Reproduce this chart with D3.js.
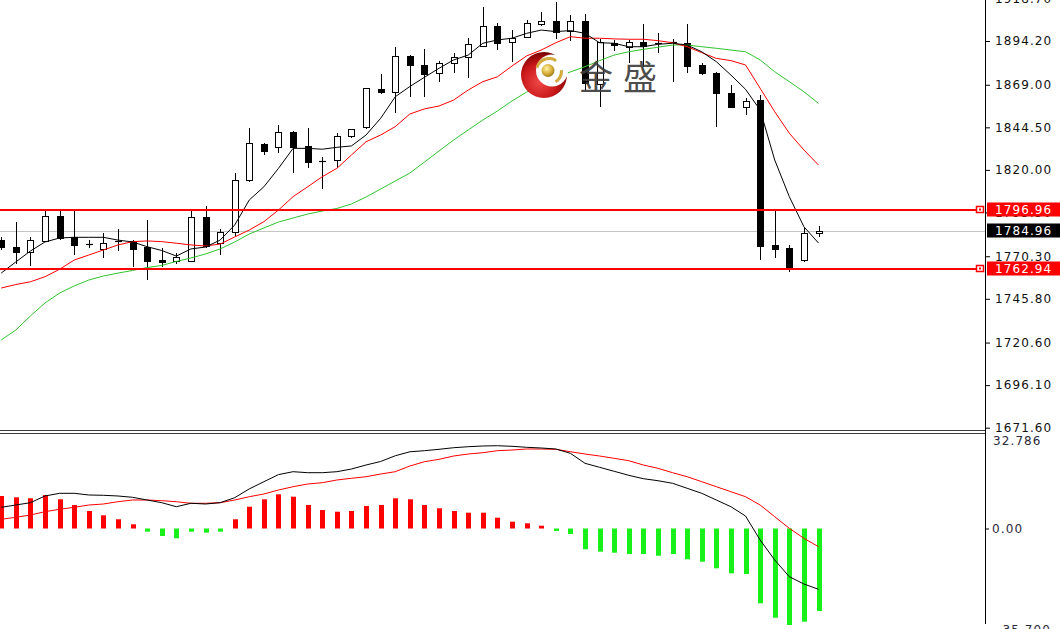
<!DOCTYPE html>
<html><head><meta charset="utf-8">
<script src="https://cdn.jsdelivr.net/npm/d3@7"></script>
<style>body{margin:0;background:#fff;overflow:hidden;} svg{display:block;}</style>
</head><body>
<svg id="c" width="1060" height="629"></svg>
<script>
// ---------- DATA ----------
const opens = [1779.7,1775.8,1772.5,1779.1,1793.5,1781.4,1777.3,1774.5,1779.1,1778.8,
1775.6,1768.1,1767.3,1767.8,1792.6,1777.9,1784.0,1814.2,1834.9,1833.0,
1842.0,1833.8,1825.4,1825.7,1839.5,1844.5,1866.7,1865.0,1885.6,1880.4,
1876.0,1881.4,1884.8,1891.3,1902.8,1893.8,1896.7,1904.0,1905.9,1900.2,
1905.9,1869.5,1893.2,1890.6,1893.8,1893.0,1893.6,1893.2,1880.4,1876.0,
1864.4,1856.0,1860.2,1776.8,1774.9,1768.1,1783.5];
const highs = [1781.4,1790.2,1781.1,1797.5,1797.5,1797.2,1779.7,1783.4,1786.0,1779.9,
1790.9,1775.3,1772.2,1797.2,1799.2,1785.7,1818.0,1844.0,1835.2,1845.8,
1842.4,1844.0,1827.3,1841.1,1843.5,1867.4,1875.2,1890.6,1885.9,1889.4,
1882.7,1887.5,1896.1,1913.6,1904.4,1900.5,1906.3,1911.1,1916.8,1909.2,
1909.7,1895.6,1894.8,1894.8,1904.0,1899.0,1895.2,1904.0,1881.7,1876.4,
1868.9,1861.2,1863.1,1796.9,1776.8,1786.4,1787.7];
const lows = [1773.9,1765.8,1764.4,1778.5,1779.9,1771.0,1775.0,1769.3,1773.6,1764.1,
1756.6,1764.1,1766.1,1767.6,1775.0,1771.0,1781.7,1812.8,1828.6,1829.9,
1818.0,1820.9,1808.8,1820.9,1838.2,1843.4,1863.7,1852.6,1862.1,1862.1,
1870.8,1875.6,1872.7,1890.9,1889.0,1882.3,1895.8,1902.8,1895.2,1894.4,
1866.0,1856.4,1888.6,1881.5,1879.4,1887.1,1870.8,1875.6,1874.6,1844.9,
1855.6,1851.6,1768.1,1769.1,1761.4,1767.2,1781.2];
const closes = [1775.6,1772.7,1779.4,1793.5,1780.8,1776.8,1777.1,1777.9,1778.5,1774.5,
1767.3,1767.0,1769.6,1792.6,1776.2,1784.3,1814.2,1835.2,1830.6,1842.0,
1833.4,1824.7,1825.1,1839.5,1843.4,1867.0,1864.8,1885.6,1880.4,1875.2,
1881.4,1884.8,1892.5,1902.8,1893.2,1895.8,1904.7,1905.9,1899.6,1906.0,
1869.9,1893.6,1891.9,1893.8,1891.3,1892.8,1893.3,1879.8,1876.0,1864.1,
1856.0,1859.8,1776.2,1774.3,1764.3,1783.5,1784.96];

const maFast = [1760.6,1767.0,1773.3,1778.5,1780.8,1781.2,1781.2,1781.2,1779.6,1778.5,
1775.8,1773.6,1770.4,1774.5,1775.6,1779.6,1788.3,1802.7,1810.3,1820.9,
1832.4,1832.4,1831.9,1833.0,1833.8,1840.1,1849.7,1862.1,1868.0,1873.3,
1878.5,1883.3,1886.1,1892.9,1894.8,1895.8,1898.6,1900.5,1899.6,1900.2,
1898.6,1893.2,1892.9,1890.9,1890.9,1892.3,1892.9,1891.9,1888.0,1882.3,
1874.6,1866.4,1854.5,1825.7,1804.6,1787.3,1777.9];
const maMid = [1752.0,1754.0,1755.6,1758.5,1762.8,1768.1,1771.0,1773.9,1776.8,1778.7,
1779.1,1778.7,1777.8,1776.8,1776.2,1777.3,1781.4,1785.4,1790.2,1796.9,
1804.6,1810.3,1816.1,1820.9,1828.6,1836.2,1840.1,1844.9,1852.2,1855.1,
1856.8,1860.2,1866.0,1870.8,1873.6,1879.8,1885.6,1889.0,1893.2,1896.7,
1895.8,1895.8,1895.4,1895.2,1895.2,1894.4,1893.2,1890.9,1887.5,1884.2,
1882.9,1880.4,1867.0,1853.5,1841.1,1831.5,1822.8];
const maSlow = [1722.1,1727.8,1735.9,1743.4,1749.1,1753.2,1756.6,1758.9,1760.6,1762.1,
1763.8,1765.0,1767.3,1769.3,1771.6,1774.5,1778.5,1783.1,1786.6,1790.0,
1792.3,1794.6,1796.3,1797.8,1800.4,1804.4,1809.0,1813.6,1818.2,1824.5,
1830.9,1837.2,1843.0,1848.7,1853.9,1859.7,1864.8,1869.5,1873.5,1876.4,
1879.4,1882.9,1886.1,1888.0,1889.4,1890.6,1891.9,1891.9,1890.9,1890.0,
1889.0,1888.0,1883.3,1876.5,1870.8,1865.0,1858.3];

const macdHist = [11.40,10.94,10.59,11.75,10.24,8.24,6.14,4.63,3.23,1.47,
-1.12,-2.63,-3.44,-1.12,-1.47,-1.12,3.23,7.64,10.24,11.99,
11.15,8.24,6.49,5.89,6.14,7.89,8.24,10.59,10.24,8.24,
7.08,6.14,5.54,5.54,3.79,2.38,1.82,0.98,-0.88,-1.93,
-7.29,-8.13,-8.49,-8.94,-8.94,-9.54,-8.94,-10.80,-11.64,-13.96,
-15.71,-15.95,-26.23,-31.28,-33.84,-32.68,-28.93];
const macdLine = [7.43,8.24,9.05,11.40,12.34,12.34,11.75,11.64,11.40,10.94,
9.99,9.05,7.64,8.84,8.59,9.05,10.8,13.9,16.41,18.9,
19.92,19.57,19.57,19.92,20.86,22.27,23.5,25.5,26.9,27.28,
27.77,28.33,28.68,28.93,29.03,28.82,28.47,28.23,27.88,26.37,
22.86,21.46,20.06,18.65,17.46,16.76,15.85,14.10,12.34,9.99,
7.64,4.38,-4.03,-11.04,-16.90,-19.46,-21.32];
const macdSignal = [3.23,3.93,4.73,5.89,6.73,7.43,8.24,8.59,9.40,9.99,
9.99,9.75,9.40,8.84,8.84,9.05,9.99,11.15,12.10,13.50,
14.66,15.60,16.06,17.01,17.60,18.16,19.11,19.92,21.91,23.42,
24.26,25.42,26.12,26.58,27.28,27.52,27.88,27.88,27.77,26.93,
26.12,25.42,24.61,23.77,22.27,21.11,19.57,18.16,16.41,14.66,
12.90,11.15,8.24,4.14,0.07,-3.44,-6.38];

const priceTicks = [1918.70,1894.20,1869.00,1844.50,1820.00,1795.50,1770.30,1745.80,1720.60,1696.10,1671.60];
const priceTickLabels = ["1918.70","1894.20","1869.00","1844.50","1820.00","1795.50","1770.30","1745.80","1720.60","1696.10","1671.60"];
const levelPrices = [1796.96, 1762.94];
const levelLabels = ["1796.96", "1762.94"];
const lastPrice = 1784.96;
const lastLabel = "1784.96";
const macdMax = 32.786, macdMaxLabel = "32.786";
const macdZeroLabel = "0.00";
const macdMin = -35.7, macdMinLabel = "-35.700";
const watermarkText = ["金", "盛"];

// ---------- CHART ----------
const W = 1060, H = 629, axisX = 985;
const svg = d3.select('#c');
const defs = svg.append('defs');
const n = closes.length;
const x = d3.scaleLinear().domain([0, n - 1]).range([1.2, 818.5]);
const yP = d3.scaleLinear().domain([1894.2, 1671.6]).range([41, 427.7]);
const yM = d3.scaleLinear().domain([macdMax, 0]).range([435, 528.5]);
const px = i => Math.round(x(i)) + 0.5;
const FONT = 'DejaVu Sans, Verdana, sans-serif';

defs.append('clipPath').attr('id', 'cpMain').append('rect')
  .attr('x', 0).attr('y', 0).attr('width', axisX).attr('height', 430);
defs.append('clipPath').attr('id', 'cpMacd').append('rect')
  .attr('x', 0).attr('y', 435).attr('width', axisX).attr('height', H - 435);

const gMain = svg.append('g').attr('clip-path', 'url(#cpMain)');

// last price grey line
gMain.append('line')
  .attr('x1', 0).attr('x2', axisX)
  .attr('y1', Math.round(yP(lastPrice)) + 0.5).attr('y2', Math.round(yP(lastPrice)) + 0.5)
  .attr('stroke', '#c4c4c4').attr('stroke-width', 1);

// candles
const cg = gMain.append('g');
d3.range(n).forEach(i => {
  const cx = px(i);
  cg.append('line')
    .attr('x1', cx).attr('x2', cx)
    .attr('y1', Math.round(yP(highs[i]))).attr('y2', Math.round(yP(lows[i])))
    .attr('stroke', '#000').attr('stroke-width', 1);
  const yo = Math.round(yP(opens[i])), yc = Math.round(yP(closes[i]));
  const top = Math.min(yo, yc), bot = Math.max(yo, yc);
  const bull = closes[i] >= opens[i];
  if (bot - top < 2) {
    cg.append('line')
      .attr('x1', cx - 3.5).attr('x2', cx + 3.5)
      .attr('y1', top + 0.5).attr('y2', top + 0.5)
      .attr('stroke', '#000').attr('stroke-width', 1.2);
  } else {
    cg.append('rect')
      .attr('x', cx - 3).attr('y', top + 0.5)
      .attr('width', 6).attr('height', bot - top)
      .attr('fill', bull ? '#fff' : '#000')
      .attr('stroke', '#000').attr('stroke-width', 1);
  }
});

// moving averages
const maLine = d3.line().x((d, i) => x(i)).y(d => yP(d));
gMain.append('path').datum(maSlow).attr('d', maLine)
  .attr('fill', 'none').attr('stroke', '#2fc42f').attr('stroke-width', 1);
gMain.append('path').datum(maMid).attr('d', maLine)
  .attr('fill', 'none').attr('stroke', '#ff0000').attr('stroke-width', 1);
gMain.append('path').datum(maFast).attr('d', maLine)
  .attr('fill', 'none').attr('stroke', '#000').attr('stroke-width', 1);

// horizontal level lines
levelPrices.forEach(v => {
  const yy = Math.round(yP(v));
  svg.append('line').attr('x1', 0).attr('x2', 977)
    .attr('y1', yy).attr('y2', yy)
    .attr('stroke', '#ff0000').attr('stroke-width', 2);
  svg.append('rect').attr('x', 976.5).attr('y', yy - 3.5).attr('width', 7).attr('height', 6)
    .attr('fill', '#fff').attr('stroke', '#ff0000').attr('stroke-width', 1.5);
  svg.append('rect').attr('x', 979).attr('y', yy - 1.5).attr('width', 2).attr('height', 2)
    .attr('fill', '#ff0000');
});

// watermark logo
const rg = defs.append('radialGradient').attr('id', 'redG').attr('cx', '40%').attr('cy', '65%').attr('r', '65%');
rg.append('stop').attr('offset', '0%').attr('stop-color', '#f04848');
rg.append('stop').attr('offset', '60%').attr('stop-color', '#c81818');
rg.append('stop').attr('offset', '100%').attr('stop-color', '#7a0000');
const gg = defs.append('radialGradient').attr('id', 'goldG').attr('cx', '40%').attr('cy', '35%').attr('r', '70%');
gg.append('stop').attr('offset', '0%').attr('stop-color', '#fff2a8');
gg.append('stop').attr('offset', '55%').attr('stop-color', '#d9b23c');
gg.append('stop').attr('offset', '100%').attr('stop-color', '#9a7416');
const wm = svg.append('g');
wm.append('circle').attr('cx', 544).attr('cy', 75).attr('r', 23).attr('fill', 'url(#redG)');
wm.append('circle').attr('cx', 552).attr('cy', 70.5).attr('r', 16).attr('fill', '#fff');
wm.append('path')
  .attr('d', d3.arc().innerRadius(11).outerRadius(14).startAngle(-1.3).endAngle(0.6)())
  .attr('transform', 'translate(549,71)').attr('fill', '#d2aa3e');
wm.append('path')
  .attr('d', d3.arc().innerRadius(11).outerRadius(14).startAngle(1.5).endAngle(2.6)())
  .attr('transform', 'translate(549,71)').attr('fill', '#d2aa3e');
wm.append('circle').attr('cx', 548).attr('cy', 70.5).attr('r', 6.5).attr('fill', 'url(#goldG)');
wm.selectAll('text.wm').data(watermarkText).enter().append('text')
  .attr('x', (d, i) => 579 + i * 44).attr('y', 90)
  .attr('font-family', 'Noto Sans CJK SC').attr('font-size', 34)
  .attr('fill', '#3b3b3b').attr('fill-opacity', 0.92)
  .text(d => d);

// MACD panel
const gM = svg.append('g').attr('clip-path', 'url(#cpMacd)');
const y0 = yM(0);
gM.selectAll('rect.h').data(macdHist).enter().append('rect')
  .attr('x', (d, i) => Math.round(x(i)) - 2)
  .attr('y', d => d >= 0 ? yM(d) : y0)
  .attr('width', 5)
  .attr('height', d => Math.abs(yM(d) - y0))
  .attr('fill', d => d >= 0 ? '#ff0000' : '#19f019');
const mLine = d3.line().x((d, i) => x(i)).y(d => yM(d));
gM.append('path').datum(macdSignal).attr('d', mLine)
  .attr('fill', 'none').attr('stroke', '#ff0000').attr('stroke-width', 1);
gM.append('path').datum(macdLine).attr('d', mLine)
  .attr('fill', 'none').attr('stroke', '#000').attr('stroke-width', 1);

// panel separator
[430.5, 433.5].forEach(yy => {
  svg.append('line').attr('x1', 0).attr('x2', axisX).attr('y1', yy).attr('y2', yy)
    .attr('stroke', '#3a3a3a').attr('stroke-width', 1);
});

// right price axis
const ax = svg.append('g').attr('transform', `translate(${axisX},0)`)
  .call(d3.axisRight(yP).tickValues(priceTicks).tickSize(5).tickPadding(5)
    .tickFormat((d, i) => priceTickLabels[i]));
ax.select('.domain').remove();
ax.attr('font-family', FONT).attr('font-size', 12);
ax.selectAll('text').attr('fill', '#111').attr('letter-spacing', '1.1px');
ax.selectAll('line').attr('stroke', '#000');

// MACD axis
const axM = svg.append('g').attr('transform', `translate(${axisX},0)`)
  .call(d3.axisRight(yM).tickValues([0]).tickSize(4).tickPadding(3).tickFormat(() => macdZeroLabel));
axM.select('.domain').remove();
axM.attr('font-family', FONT).attr('font-size', 12);
axM.selectAll('text').attr('fill', '#2a2a40').attr('letter-spacing', '1.1px');
axM.selectAll('line').attr('stroke', '#000');
svg.append('text').attr('x', axisX + 8).attr('y', yM(macdMax) + 6).attr('dy', '0.32em')
  .attr('font-family', FONT).attr('font-size', 12).attr('letter-spacing', '1.1px')
  .attr('fill', '#2a2a40').text(macdMaxLabel);
svg.append('text').attr('x', axisX + 12).attr('y', yM(macdMin)).attr('dy', '0.32em')
  .attr('font-family', FONT).attr('font-size', 12).attr('letter-spacing', '1.1px')
  .attr('fill', '#2a2a40').text(macdMinLabel);

// axis vertical line
svg.append('line').attr('x1', axisX + 0.5).attr('x2', axisX + 0.5).attr('y1', 0).attr('y2', 624)
  .attr('stroke', '#000').attr('stroke-width', 1);

// price label boxes
function priceBox(v, label, color) {
  const yy = Math.round(yP(v));
  svg.append('rect').attr('x', 987).attr('y', yy - 7.5).attr('width', 73).attr('height', 14)
    .attr('fill', color);
  svg.append('text').attr('x', 995).attr('y', yy).attr('dy', '0.35em')
    .attr('font-family', FONT).attr('font-size', 12).attr('letter-spacing', '1.1px')
    .attr('fill', '#fff').text(label);
}
levelPrices.forEach((v, i) => priceBox(v, levelLabels[i], '#ff0000'));
priceBox(lastPrice, lastLabel, '#000');
</script>
</body></html>
